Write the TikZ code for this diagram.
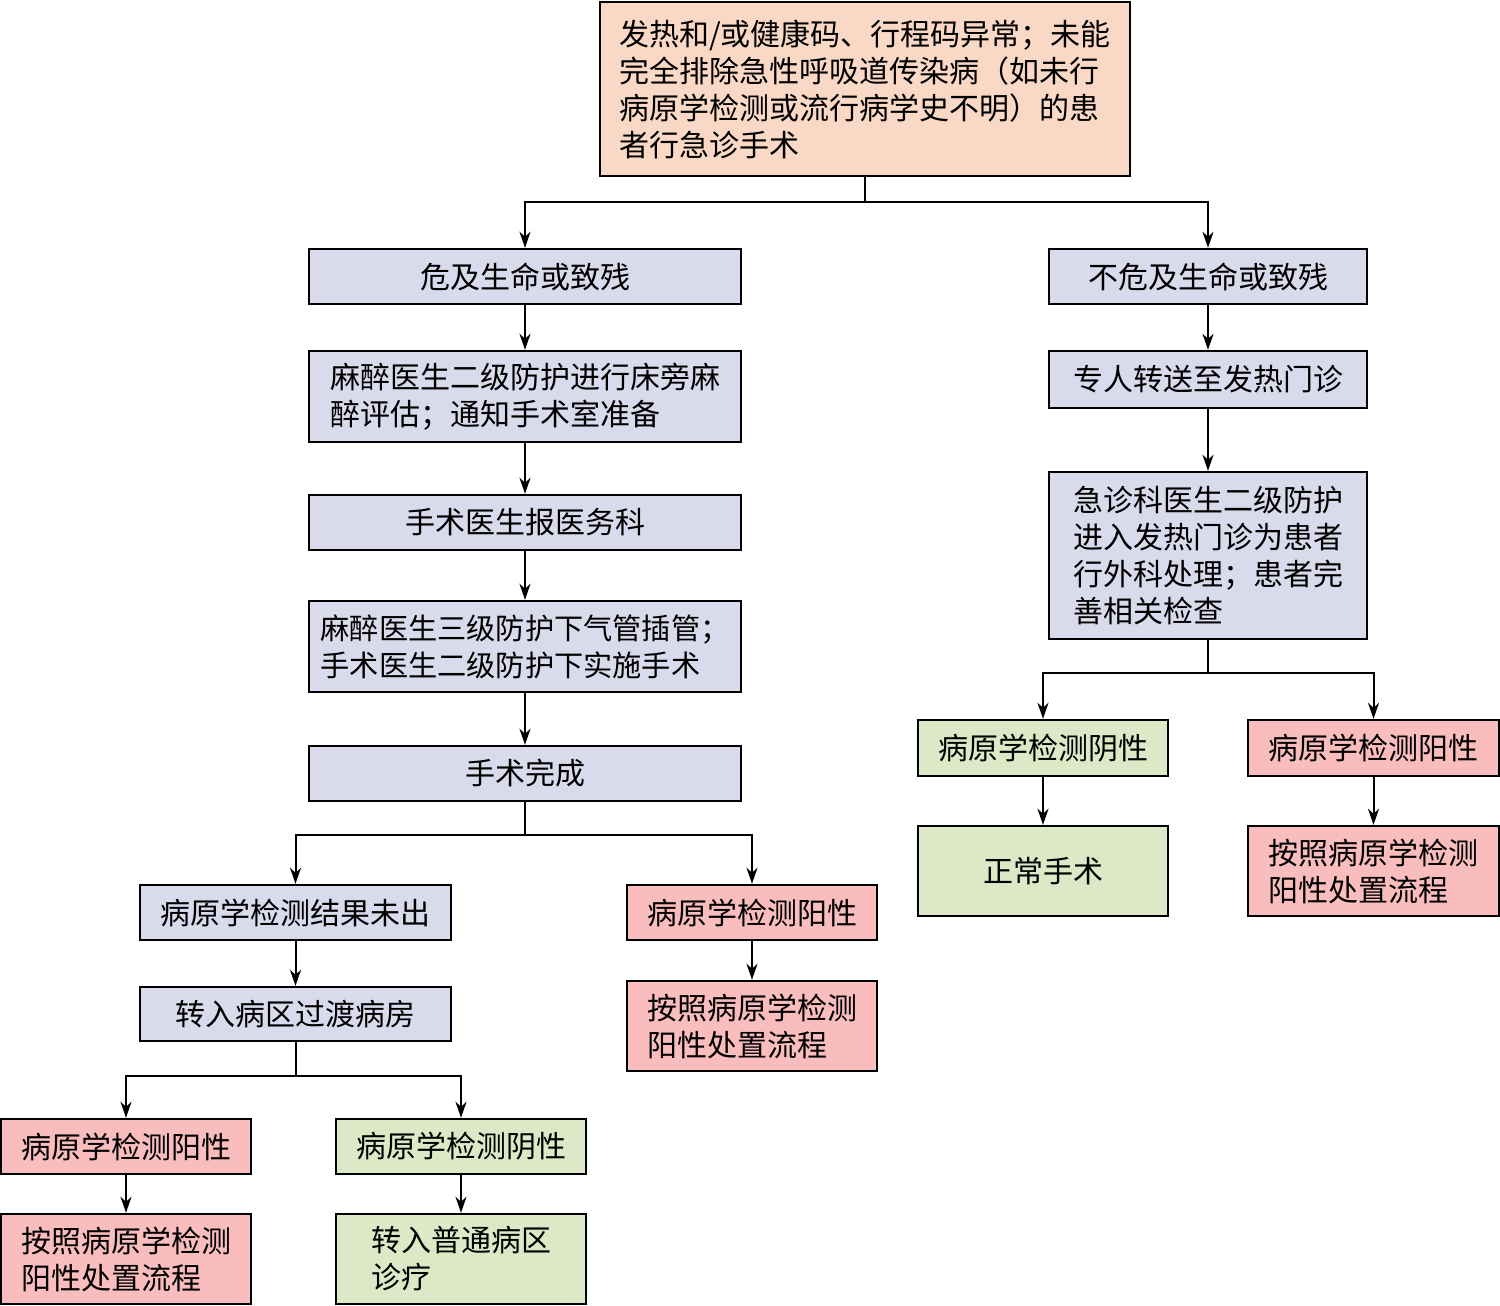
\documentclass[tikz,border=0pt]{standalone}
\usepackage{fontspec}
\setmainfont{Noto Sans CJK SC}
\usetikzlibrary{arrows.meta}
\definecolor{peche}{HTML}{F9D9C5}
\definecolor{bleu}{HTML}{D9DAEC}
\definecolor{vert}{HTML}{DDE9C6}
\definecolor{rose}{HTML}{F9BDBD}
\begin{document}
\begin{tikzpicture}[x=0.5pt,y=-0.5pt]
\par
\tikzstyle{boite}=[draw,line width=1.2pt,inner sep=0pt,align=left,font=\fontsize{15}{18.5}\selectfont]
\tikzstyle{fleche}=[->,>={Stealth[length=8pt,width=5.5pt,inset=2.5pt]},line width=1pt]
\tikzstyle{trait}=[line width=1pt]
\useasboundingbox (0,0) rectangle (1500,1306);
\par
\node[boite,fill=peche,minimum width=265pt,minimum height=87pt] (debut) at (865,89)
  {发热和/或健康码、行程码异常；未能\\完全排除急性呼吸道传染病（如未行\\病原学检测或流行病学史不明）的患\\者行急诊手术};
\par
% branche gauche
\node[boite,fill=bleu,minimum width=216pt,minimum height=27.5pt] (danger) at (525,276.5) {危及生命或致残};
\node[boite,fill=bleu,minimum width=216pt,minimum height=45.5pt] (anesth) at (525,396.5) {麻醉医生二级防护进行床旁麻\\醉评估；通知手术室准备};
\node[boite,fill=bleu,minimum width=216pt,minimum height=27.5pt] (rapport) at (525,522.5) {手术医生报医务科};
\node[boite,fill=bleu,minimum width=216pt,minimum height=45.5pt,font=\fontsize{14.6}{18.5}\selectfont] (intub) at (525,646.5) {麻醉医生三级防护下气管插管；\\手术医生二级防护下实施手术};
\node[boite,fill=bleu,minimum width=216pt,minimum height=27.5pt] (fini) at (525,773.5) {手术完成};
\node[boite,fill=bleu,minimum width=155.5pt,minimum height=27.5pt] (attente) at (295.5,912.5) {病原学检测结果未出};
\node[boite,fill=rose,minimum width=125pt,minimum height=27.5pt] (posA) at (752,912.5) {病原学检测阳性};
\node[boite,fill=bleu,minimum width=155.5pt,minimum height=27pt] (transit) at (295.5,1014) {转入病区过渡病房};
\node[boite,fill=rose,minimum width=125pt,minimum height=45pt] (procA) at (752,1026) {按照病原学检测\\阳性处置流程};
\node[boite,fill=rose,minimum width=125pt,minimum height=27.5pt] (posB) at (126,1146.5) {病原学检测阳性};
\node[boite,fill=vert,minimum width=125pt,minimum height=27.5pt] (negB) at (461,1146.5) {病原学检测阴性};
\node[boite,fill=rose,minimum width=125pt,minimum height=45pt] (procB) at (126,1259) {按照病原学检测\\阳性处置流程};
\node[boite,fill=vert,minimum width=125pt,minimum height=45pt] (normal) at (461,1259) {转入普通病区\\诊疗};
\par
% branche droite
\node[boite,fill=bleu,minimum width=159pt,minimum height=27.5pt] (sansdanger) at (1208,276.5) {不危及生命或致残};
\node[boite,fill=bleu,minimum width=159pt,minimum height=28.5pt] (transfert) at (1208,379.5) {专人转送至发热门诊};
\node[boite,fill=bleu,minimum width=159pt,minimum height=83.5pt] (urgence) at (1208,555.5) {急诊科医生二级防护\\进入发热门诊为患者\\行外科处理；患者完\\善相关检查};
\node[boite,fill=vert,minimum width=125pt,minimum height=28pt] (negC) at (1043,748) {病原学检测阴性};
\node[boite,fill=rose,minimum width=125.5pt,minimum height=28pt] (posC) at (1373.5,748) {病原学检测阳性};
\node[boite,fill=vert,minimum width=125pt,minimum height=45pt] (opnormal) at (1043,871) {正常手术};
\node[boite,fill=rose,minimum width=125.5pt,minimum height=45pt] (procC) at (1373.5,871) {按照病原学检测\\阳性处置流程};
\par
% fleches
\draw[trait] (debut.south) -- ++(0,25) coordinate (s0);
\draw[fleche] (s0) -| (danger.north);
\draw[fleche] (s0) -| (sansdanger.north);
\draw[fleche] (danger) -- (anesth);
\draw[fleche] (anesth) -- (rapport);
\draw[fleche] (rapport) -- (intub);
\draw[fleche] (intub) -- (fini);
\draw[trait] (fini.south) -- ++(0,33) coordinate (s1);
\draw[fleche] (s1) -| (attente.north);
\draw[fleche] (s1) -| (posA.north);
\draw[fleche] (attente) -- (transit);
\draw[fleche] (posA) -- (procA);
\draw[trait] (transit.south) -- ++(0,34) coordinate (s2);
\draw[fleche] (s2) -| (posB.north);
\draw[fleche] (s2) -| (negB.north);
\draw[fleche] (posB) -- (procB);
\draw[fleche] (negB) -- (normal);
\draw[fleche] (sansdanger) -- (transfert);
\draw[fleche] (transfert) -- (urgence);
\draw[trait] (urgence.south) -- ++(0,33) coordinate (s3);
\draw[fleche] (s3) -| (negC.north);
\draw[fleche] (s3) -| (posC.north);
\draw[fleche] (negC) -- (opnormal);
\draw[fleche] (posC) -- (procC);
\par
\end{tikzpicture}
\end{document}
